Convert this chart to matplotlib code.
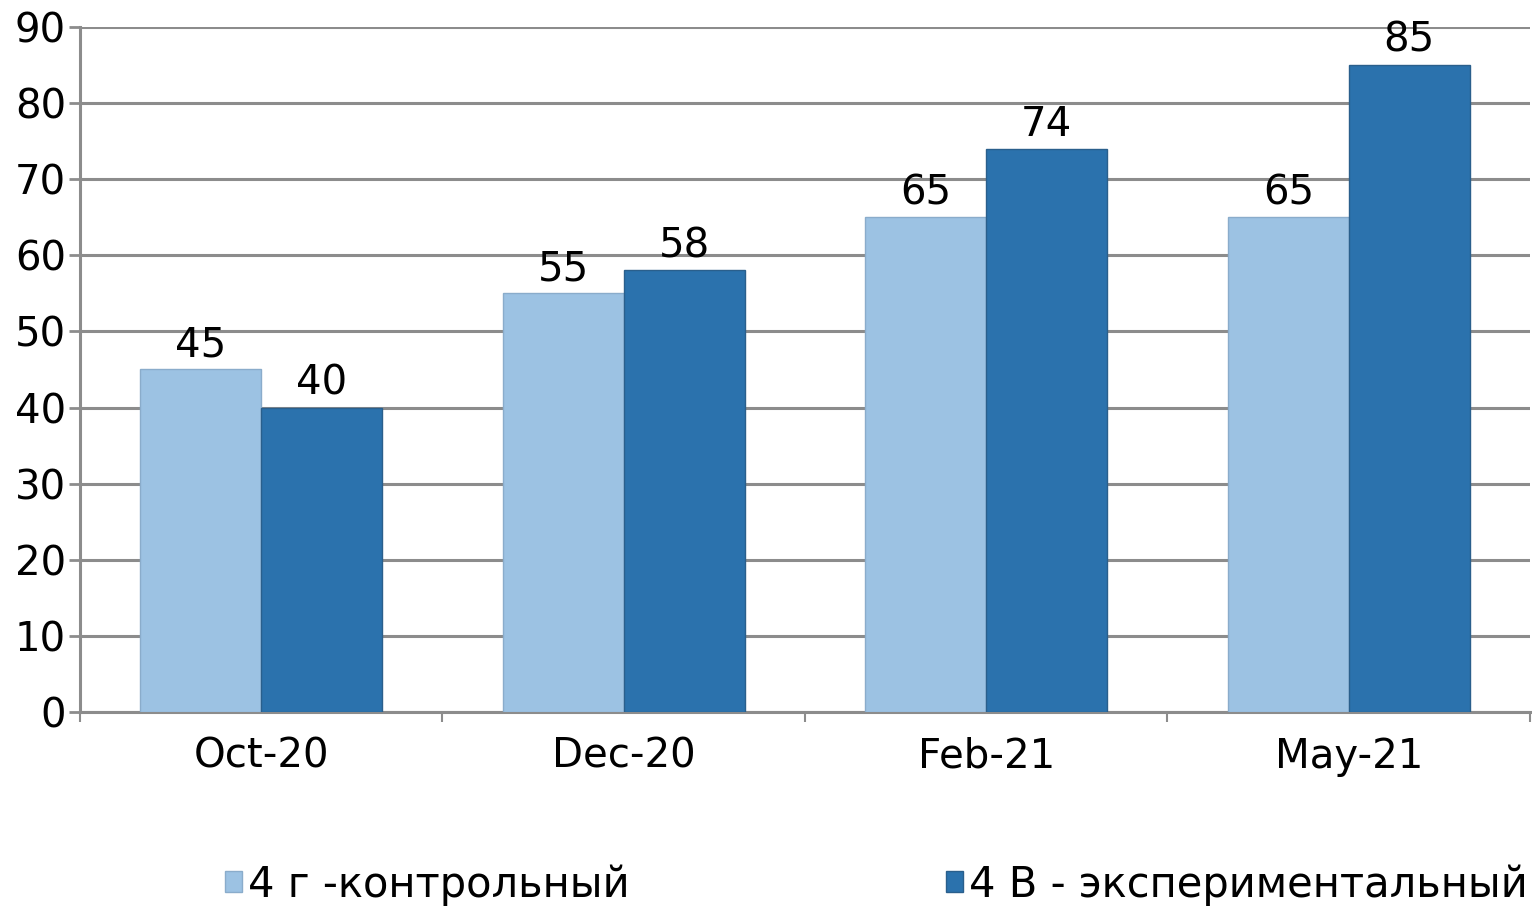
import matplotlib
matplotlib.use("Agg")
import matplotlib.pyplot as plt
import numpy as np

# Данные графика
periods = ['Oct-20', 'Dec-20', 'Feb-21', 'May-21']
control = [45, 55, 65, 65]
experimental = [40, 58, 74, 85]
labels = ['4 г -контрольный', '4 В - экспериментальный']

c_light = '#9cc2e3'
c_dark = '#2b72ad'
c_grid = '#8c8c8c'


def main():
    plt.rcParams['font.family'] = ['DejaVu Sans']
    fig = plt.figure(figsize=(15.32, 9.13), dpi=100)
    ax = fig.add_axes([0.0522, 0.2202, 0.9465, 0.7503])

    x = np.arange(len(periods))
    w = 1 / 3
    b1 = ax.bar(x - w / 2, control, w, color=c_light, edgecolor='#8aaccb',
                linewidth=1, label=labels[0], zorder=3)
    b2 = ax.bar(x + w / 2, experimental, w, color=c_dark, edgecolor='#2a5f8c',
                linewidth=1, label=labels[1], zorder=3)

    for bars in (b1, b2):
        ax.bar_label(bars, padding=3, fontsize=29, color='black')

    ax.set_xlim(-0.5, 3.5)
    ax.set_ylim(0, 90)
    ax.set_yticks(range(0, 91, 10))
    ax.yaxis.grid(True, color=c_grid, linewidth=2.2, zorder=0)
    ax.set_axisbelow(True)

    ax.set_xticks(x)
    ax.set_xticklabels(periods)
    ax.set_xticks(np.arange(-0.5, 3.6, 1), minor=True)
    ax.tick_params(axis='x', which='major', length=0, pad=18, labelsize=29)
    ax.tick_params(axis='x', which='minor', length=7, width=1.5, color=c_grid)
    ax.tick_params(axis='y', length=8, width=2, color=c_grid, pad=2, labelsize=29)

    for s in ['top', 'right']:
        ax.spines[s].set_visible(False)
    ax.spines['left'].set_color(c_grid)
    ax.spines['left'].set_linewidth(2.2)
    ax.spines['bottom'].set_color(c_grid)
    ax.spines['bottom'].set_linewidth(2.2)

    fig.legend(loc='center', bbox_to_anchor=(0.572, 0.031), ncol=2, frameon=False,
               fontsize=30, handlelength=0.4, handleheight=0.4,
               handletextpad=0.15, columnspacing=7.6)

    fig.savefig('out.png', dpi=100)


if __name__ == "__main__":
    main()
